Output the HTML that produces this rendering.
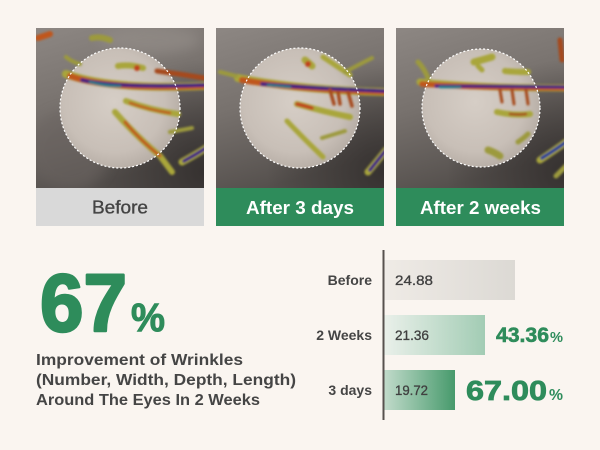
<!DOCTYPE html>
<html><head><meta charset="utf-8"><style>
html,body{margin:0;padding:0;background:#faf5f0;}
svg{display:block;}
text{font-family:"Liberation Sans",sans-serif;}
</style></head><body>
<svg width="600" height="450" viewBox="0 0 600 450" xmlns="http://www.w3.org/2000/svg">
<defs>
  <linearGradient id="base" x1="0" y1="0" x2="0.3" y2="1">
    <stop offset="0" stop-color="#8d8783"/>
    <stop offset="0.5" stop-color="#77716d"/>
    <stop offset="1" stop-color="#55504d"/>
  </linearGradient>
  <radialGradient id="darkR" cx="1" cy="0.9" r="0.7">
    <stop offset="0" stop-color="#2e2a29" stop-opacity="0.8"/>
    <stop offset="1" stop-color="#2e2a29" stop-opacity="0"/>
  </radialGradient>
  <radialGradient id="circ" cx="0.45" cy="0.45" r="0.6">
    <stop offset="0" stop-color="#d6cec6"/>
    <stop offset="0.7" stop-color="#c8bfb7"/>
    <stop offset="1" stop-color="#b3aaa2"/>
  </radialGradient>
  <linearGradient id="gBefore" x1="0" x2="1">
    <stop offset="0" stop-color="#efebe6"/>
    <stop offset="1" stop-color="#dcd9d4"/>
  </linearGradient>
  <linearGradient id="g2w" x1="0" x2="1">
    <stop offset="0" stop-color="#eaf0ea"/>
    <stop offset="1" stop-color="#a2ccb4"/>
  </linearGradient>
  <linearGradient id="g3d" x1="0" x2="1">
    <stop offset="0" stop-color="#c2dbcb"/>
    <stop offset="1" stop-color="#479a6c"/>
  </linearGradient>
  <filter id="bl" x="-20%" y="-20%" width="140%" height="140%"><feGaussianBlur stdDeviation="1.1"/></filter>
  <filter id="bl2" x="-50%" y="-50%" width="200%" height="200%"><feGaussianBlur stdDeviation="6"/></filter>
  <clipPath id="c1"><rect x="36" y="28" width="168" height="160"/></clipPath>
  <clipPath id="c2"><rect x="216" y="28" width="168" height="160"/></clipPath>
  <clipPath id="c3"><rect x="396" y="28" width="168" height="160"/></clipPath>
</defs>

<rect width="600" height="450" fill="#faf5f0"/>

<!-- Image 1 -->
<g clip-path="url(#c1)">
  <rect x="36" y="28" width="168" height="160" fill="url(#base)"/>
  <rect x="36" y="28" width="168" height="160" fill="url(#darkR)"/>
  <ellipse cx="70" cy="150" rx="40" ry="40" fill="#6a6360" opacity="0.5" filter="url(#bl2)"/>
  <ellipse cx="150" cy="40" rx="50" ry="14" fill="#958f8a" opacity="0.6" filter="url(#bl2)"/>
  <circle cx="120" cy="108" r="60" fill="url(#circ)"/>
  <g filter="url(#bl)" fill="none" stroke-linecap="round">
    <path d="M66 74 Q110 90 204 86" stroke="#a9a63a" stroke-width="8"/>
    <path d="M70 76 Q110 90 204 86" stroke="#c0561f" stroke-width="6"/>
    <path d="M82 80 Q115 88 204 85" stroke="#3d1a82" stroke-width="3.5"/>
    <path d="M90 82 Q105 86 120 86" stroke="#1f7a8a" stroke-width="2.5"/>
    <path d="M115 112 Q135 135 160 156 L172 172" stroke="#a9a63a" stroke-width="6"/>
    <path d="M125 122 Q140 140 160 156" stroke="#c0561f" stroke-width="3"/>
    <path d="M126 101 Q150 110 178 114" stroke="#a9a63a" stroke-width="6"/>
    <path d="M130 103 Q150 110 170 113" stroke="#c0561f" stroke-width="2.5"/>
    <path d="M118 66 Q130 64 143 68" stroke="#a9a63a" stroke-width="6"/>
    <circle cx="137" cy="68" r="3" fill="#c0401a" stroke="none"/>
    <path d="M157 71 Q180 74 204 78" stroke="#a64a1c" stroke-width="5"/>
    <path d="M38 38 Q44 36 50 34" stroke="#c0561f" stroke-width="6"/>
    <path d="M92 38 Q100 36 110 40" stroke="#9c9a3c" stroke-width="6"/>
    <path d="M66 57 Q72 62 80 64" stroke="#9c9a3c" stroke-width="4"/>
    <path d="M182 162 Q195 155 206 148" stroke="#a9a63a" stroke-width="7"/>
    <path d="M184 161 Q195 155 206 148" stroke="#3d1a82" stroke-width="3.5"/>
    <path d="M170 132 Q182 130 192 128" stroke="#9c9a3c" stroke-width="4"/>
  </g>
  <circle cx="120" cy="108" r="60" fill="none" stroke="#ffffff" stroke-width="1.2" stroke-dasharray="2 2"/>
</g>
<rect x="36" y="188" width="168" height="38" fill="#d9d9d9"/>
<text x="120" y="213.5" text-anchor="middle" font-size="18" fill="#444444" stroke="#444444" stroke-width="0.35" textLength="56" lengthAdjust="spacingAndGlyphs">Before</text>

<!-- Image 2 -->
<g clip-path="url(#c2)">
  <rect x="216" y="28" width="168" height="160" fill="url(#base)"/>
  <rect x="216" y="28" width="168" height="160" fill="url(#darkR)"/>
  <circle cx="300" cy="108" r="60" fill="url(#circ)"/>
  <g filter="url(#bl)" fill="none" stroke-linecap="round">
    <path d="M238 78 Q300 90 384 92" stroke="#a9a63a" stroke-width="8"/>
    <path d="M242 80 Q300 90 384 92" stroke="#c0561f" stroke-width="6"/>
    <path d="M262 84 Q310 88 384 91" stroke="#3d1a82" stroke-width="3.5"/>
    <path d="M268 85 Q280 86 290 87" stroke="#1f7a8a" stroke-width="2.5"/>
    <path d="M330 90 L334 104 M338 92 L340 104 M348 92 L352 106" stroke="#a64a1c" stroke-width="3.5"/>
    <path d="M287 121 Q305 140 323 157" stroke="#a9a63a" stroke-width="5"/>
    <path d="M297 104 Q325 112 350 117" stroke="#a9a63a" stroke-width="6"/>
    <path d="M297 104 Q305 106 312 108" stroke="#c0401a" stroke-width="3.5"/>
    <path d="M305 60 Q310 64 312 66" stroke="#a9a63a" stroke-width="7"/>
    <circle cx="308" cy="64" r="3" fill="#c0401a" stroke="none"/>
    <path d="M323 57 Q335 65 350 75" stroke="#a9a63a" stroke-width="5"/>
    <path d="M345 72 Q360 64 372 58" stroke="#9c9a3c" stroke-width="4"/>
    <path d="M322 138 Q335 134 345 131" stroke="#9c9a3c" stroke-width="4"/>
    <path d="M236 76 Q228 74 220 72" stroke="#9c9a3c" stroke-width="4"/>
    <path d="M368 172 Q378 160 386 150" stroke="#a9a63a" stroke-width="7"/>
    <path d="M370 170 Q378 160 386 150" stroke="#3d1a82" stroke-width="3.5"/>
  </g>
  <circle cx="300" cy="108" r="60" fill="none" stroke="#ffffff" stroke-width="1.2" stroke-dasharray="2 2"/>
</g>
<rect x="216" y="188" width="168" height="38" fill="#2e8c5b"/>
<text x="300" y="214" text-anchor="middle" font-size="18" font-weight="bold" fill="#ffffff" textLength="108" lengthAdjust="spacingAndGlyphs">After 3 days</text>

<!-- Image 3 -->
<g clip-path="url(#c3)">
  <rect x="396" y="28" width="168" height="160" fill="url(#base)"/>
  <rect x="396" y="28" width="168" height="160" fill="url(#darkR)"/>
  <circle cx="481" cy="108" r="59" fill="url(#circ)"/>
  <g filter="url(#bl)" fill="none" stroke-linecap="round">
    <path d="M420 82 Q480 88 566 88" stroke="#a9a63a" stroke-width="7"/>
    <path d="M422 84 Q480 88 566 88" stroke="#c0561f" stroke-width="5.5"/>
    <path d="M436 86 Q480 86 566 87" stroke="#3d1a82" stroke-width="3"/>
    <path d="M440 87 Q450 87 460 87" stroke="#1f7a8a" stroke-width="2.5"/>
    <path d="M500 90 L502 102 M512 90 L514 104 M526 90 L528 104" stroke="#a64a1c" stroke-width="3"/>
    <path d="M474 62 Q482 60 492 57" stroke="#a9a63a" stroke-width="7"/>
    <path d="M478 66 L482 70" stroke="#a9a63a" stroke-width="5"/>
    <path d="M505 71 Q515 72 528 72" stroke="#a9a63a" stroke-width="6"/>
    <path d="M497 112 Q515 116 530 114" stroke="#a9a63a" stroke-width="6"/>
    <path d="M510 114 Q520 115 526 114" stroke="#a64a1c" stroke-width="2.5"/>
    <path d="M488 150 Q494 152 500 156" stroke="#9c9a3c" stroke-width="7"/>
    <path d="M518 142 Q524 138 528 134" stroke="#9c9a3c" stroke-width="5"/>
    <path d="M418 62 Q424 68 428 78" stroke="#9c9a3c" stroke-width="5"/>
    <path d="M540 160 Q555 150 566 142" stroke="#a9a63a" stroke-width="7"/>
    <path d="M542 158 Q555 150 566 142" stroke="#1f3a9a" stroke-width="3.5"/>
    <path d="M556 176 Q562 170 566 166" stroke="#9c9a3c" stroke-width="5"/>
    <path d="M560 40 L562 60" stroke="#a64a1c" stroke-width="5"/>
  </g>
  <circle cx="481" cy="108" r="59" fill="none" stroke="#ffffff" stroke-width="1.2" stroke-dasharray="2 2"/>
</g>
<rect x="396" y="188" width="168" height="38" fill="#2e8c5b"/>
<text x="480.5" y="214" text-anchor="middle" font-size="18" font-weight="bold" fill="#ffffff" textLength="121" lengthAdjust="spacingAndGlyphs">After 2 weeks</text>

<!-- Left big stat -->
<text x="40" y="331" font-size="82" font-weight="bold" fill="#2e8c5b" stroke="#2e8c5b" stroke-width="2.5" stroke-linejoin="round" textLength="87" lengthAdjust="spacingAndGlyphs">67</text>
<text x="131" y="331" font-size="40" font-weight="bold" fill="#2e8c5b" stroke="#2e8c5b" stroke-width="1" textLength="34" lengthAdjust="spacingAndGlyphs">%</text>
<text x="36" y="365" font-size="16" font-weight="bold" fill="#454545" textLength="207" lengthAdjust="spacingAndGlyphs">Improvement of Wrinkles</text>
<text x="36" y="385" font-size="16" font-weight="bold" fill="#454545" textLength="260" lengthAdjust="spacingAndGlyphs">(Number, Width, Depth, Length)</text>
<text x="36" y="405" font-size="16" font-weight="bold" fill="#454545" textLength="224" lengthAdjust="spacingAndGlyphs">Around The Eyes In 2 Weeks</text>

<!-- Bar chart -->
<rect x="384" y="260" width="131" height="40" fill="url(#gBefore)"/>
<rect x="384" y="315" width="101" height="40" fill="url(#g2w)"/>
<rect x="384" y="370" width="71" height="40" fill="url(#g3d)"/>
<rect x="382.5" y="250" width="2" height="170" fill="#57514e"/>

<text x="372" y="285" text-anchor="end" font-size="14" font-weight="bold" fill="#454545">Before</text>
<text x="372" y="340" text-anchor="end" font-size="14" font-weight="bold" fill="#454545">2 Weeks</text>
<text x="372" y="395" text-anchor="end" font-size="14" font-weight="bold" fill="#454545">3 days</text>

<text x="395" y="285" font-size="14" fill="#404040" stroke="#404040" stroke-width="0.3" textLength="38" lengthAdjust="spacingAndGlyphs">24.88</text>
<text x="395" y="340" font-size="14" fill="#404040" stroke="#404040" stroke-width="0.3" textLength="34" lengthAdjust="spacingAndGlyphs">21.36</text>
<text x="395" y="395" font-size="14" fill="#404040" stroke="#404040" stroke-width="0.3" textLength="33" lengthAdjust="spacingAndGlyphs">19.72</text>

<text x="496" y="342" font-size="21" font-weight="bold" fill="#2e8c5b" stroke="#2e8c5b" stroke-width="0.6" textLength="53" lengthAdjust="spacingAndGlyphs">43.36</text>
<text x="550" y="342" font-size="15" font-weight="bold" fill="#2e8c5b" textLength="13" lengthAdjust="spacingAndGlyphs">%</text>
<text x="466" y="400" font-size="28" font-weight="bold" fill="#2e8c5b" stroke="#2e8c5b" stroke-width="0.8" textLength="81" lengthAdjust="spacingAndGlyphs">67.00</text>
<text x="549" y="400" font-size="16" font-weight="bold" fill="#2e8c5b" textLength="14" lengthAdjust="spacingAndGlyphs">%</text>
</svg>
</body></html>
